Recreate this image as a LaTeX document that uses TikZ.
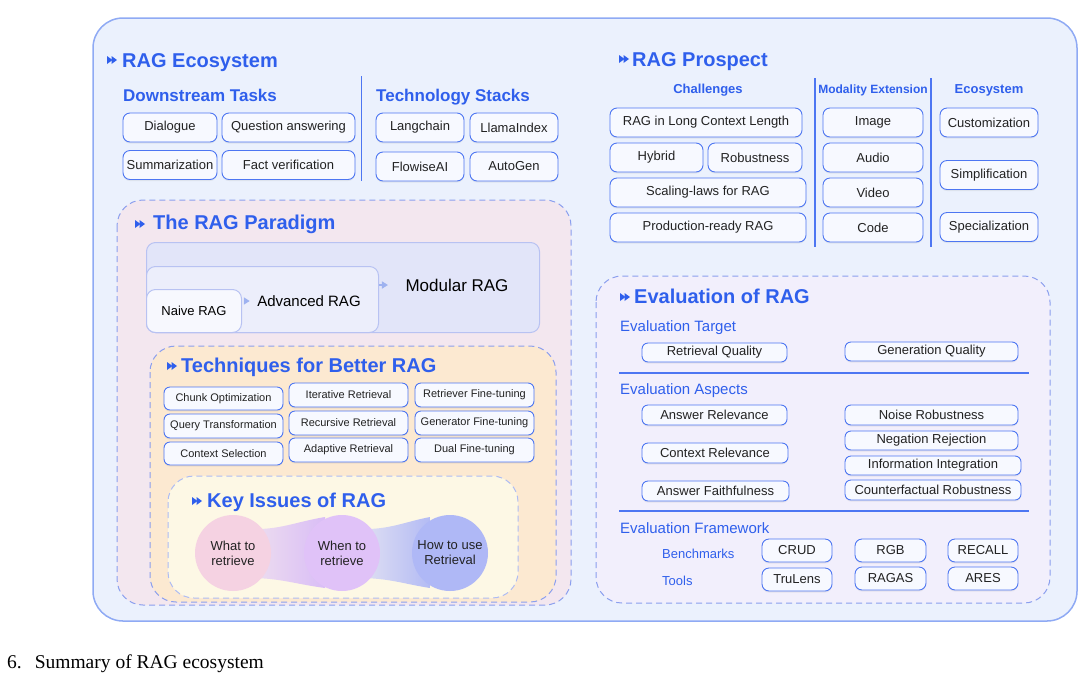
\documentclass[tikz,border=0pt]{standalone}
\usepackage{fontspec}
\setmainfont{Liberation Serif}
\setsansfont{Liberation Sans}
\usepackage{tikz}
\usetikzlibrary{arrows.meta,shadows}
\usepackage{xcolor}
\definecolor{ttlblue}{HTML}{2F5FEC}
\definecolor{boxblue}{HTML}{4D76F2}
\definecolor{tagfill}{HTML}{F7F9FF}
\definecolor{ink}{HTML}{222222}
\definecolor{outfill}{HTML}{EBF1FD}
\definecolor{outline}{HTML}{8FAAF4}
\definecolor{dashblue}{HTML}{8B9FEE}
\definecolor{pinkfill}{HTML}{F3E7EF}
\definecolor{peachfill}{HTML}{FCE9D1}
\definecolor{creamfill}{HTML}{FDF8E5}
\definecolor{lavfill}{HTML}{F2EFFC}
\definecolor{modfill}{HTML}{E2E5F9}
\definecolor{advfill}{HTML}{ECEEFB}
\definecolor{naifill}{HTML}{F7F8FE}
\definecolor{paraline}{HTML}{B8C2F2}
\definecolor{arrblue}{HTML}{9EB2F0}
\definecolor{issuea}{HTML}{F5D2E2}
\definecolor{issueb}{HTML}{E0C2F8}
\definecolor{issuec}{HTML}{AFB8F6}
\definecolor{ribaa}{HTML}{EEDFEF}
\definecolor{ribab}{HTML}{D9BDF6}
\definecolor{ribba}{HTML}{E2E1F2}
\definecolor{ribbb}{HTML}{B3BBF4}

\begin{document}
\begin{tikzpicture}[x=1pt, y=-1pt, font=\sffamily,
	tagbox/.style={draw=boxblue, line width=0.9pt, fill=tagfill, rounded corners=7pt, inner sep=0pt, text=ink,
		font=\sffamily\fontsize{13}{15}\selectfont,
		drop shadow={shadow xshift=0pt, shadow yshift=-1.5pt, opacity=0.12}},
	smalltag/.style={tagbox, rounded corners=6pt, font=\sffamily\fontsize{11}{13}\selectfont},
	head/.style={anchor=base west, inner sep=0pt, text=ttlblue, font=\sffamily\bfseries\fontsize{20}{24}\selectfont},
	subhead/.style={anchor=base west, inner sep=0pt, text=ttlblue, font=\sffamily\bfseries\fontsize{17}{20}\selectfont},
	colhead/.style={anchor=base, inner sep=0pt, text=ttlblue, font=\sffamily\bfseries\fontsize{13}{15}\selectfont},
	evhead/.style={anchor=base west, inner sep=0pt, text=ttlblue, font=\sffamily\fontsize{15}{18}\selectfont},
	toolhead/.style={anchor=base west, inner sep=0pt, text=ttlblue, font=\sffamily\fontsize{13}{15}\selectfont},
	panel/.style={draw=dashblue, line width=1pt, dash pattern=on 6pt off 4pt, rounded corners=26pt},
	sepline/.style={draw=boxblue, line width=1.2pt},
	stage/.style={draw=paraline, line width=1pt, rounded corners=9pt, inner sep=0pt, anchor=north west},
	parr/.style={-{Triangle[length=6pt, width=7pt]}, draw=arrblue, line width=1.5pt},
	issue/.style={circle, minimum size=76, inner sep=0pt, align=center, text=ink,
		font=\sffamily\fontsize{13}{15}\selectfont},
	chev/.pic={\fill (0,-4) -- (5.5,0) -- (0,4) -- cycle; \fill (4.5,-4) -- (10,0) -- (4.5,4) -- cycle;}]
	\useasboundingbox (0,0) rectangle (1089,678);
	\draw[fill=outfill, draw=outline, line width=1.5pt, rounded corners=30pt] (93,18) rectangle (1077,621);

	\pic[ttlblue] at (107,60) {chev};
	\node[head] (ecoT) at (122,67) {RAG Ecosystem};
	\node[subhead] (dsT) at (123,101) {Downstream Tasks};
	\node[subhead] (tsT) at (376,101) {Technology Stacks};
	\coordinate (ecoTop) at (361.5,76);
	\coordinate (ecoBot) at (361.5,181);
	\draw[sepline] (ecoTop) -- (ecoBot);
	\node[tagbox, minimum width=94, minimum height=29] (dlg) at (170,127.5) {Dialogue};
	\node[tagbox, minimum width=133, minimum height=29] (qa) at (288.5,127.5) {Question answering};
	\node[tagbox, minimum width=94, minimum height=29] (summ) at (170,165) {Summarization};
	\node[tagbox, minimum width=133, minimum height=29] (fact) at (288.5,165) {Fact verification};
	\node[tagbox, minimum width=88, minimum height=29] (lang) at (420,127.5) {Langchain};
	\node[tagbox, minimum width=88, minimum height=29] (llama) at (514,127.5) {LlamaIndex};
	\node[tagbox, minimum width=88, minimum height=29] (flow) at (420,166.5) {FlowiseAI};
	\node[tagbox, minimum width=88, minimum height=29] (autog) at (514,166.5) {AutoGen};

	\pic[ttlblue] at (619,59) {chev};
	\node[head] (proT) at (632,66) {RAG Prospect};
	\node[colhead] (chT) at (708,93) {Challenges};
	\node[colhead, font=\sffamily\bfseries\fontsize{12}{14}\selectfont] (meT) at (873,93) {Modality Extension};
	\node[colhead] (esT) at (989,93) {Ecosystem};
	\coordinate (proTopA) at (815,78);
	\coordinate (proBotA) at (815,247);
	\coordinate (proTopB) at (931,78);
	\coordinate (proBotB) at (931,247);
	\draw[sepline] (proTopA) -- (proBotA);
	\draw[sepline] (proTopB) -- (proBotB);
	\node[tagbox, minimum width=192, minimum height=29] (longctx) at (706,122.5) {RAG in Long Context Length};
	\node[tagbox, minimum width=93, minimum height=29] (hybrid) at (656.5,157.5) {Hybrid};
	\node[tagbox, minimum width=94, minimum height=29] (robust) at (755,157.5) {Robustness};
	\node[tagbox, minimum width=196, minimum height=29] (scaling) at (708,192.5) {Scaling-laws for RAG};
	\node[tagbox, minimum width=196, minimum height=29] (prod) at (708,227.5) {Production-ready RAG};
	\node[tagbox, minimum width=100, minimum height=29] (image) at (873,122.5) {Image};
	\node[tagbox, minimum width=100, minimum height=29] (audio) at (873,157.5) {Audio};
	\node[tagbox, minimum width=100, minimum height=29] (video) at (873,192.5) {Video};
	\node[tagbox, minimum width=100, minimum height=29] (code) at (873,227.5) {Code};
	\node[tagbox, minimum width=98, minimum height=29] (custom) at (989,122.5) {Customization};
	\node[tagbox, minimum width=98, minimum height=29] (simpl) at (989,175) {Simplification};
	\node[tagbox, minimum width=98, minimum height=29] (special) at (989,227) {Specialization};

	\draw[panel, fill=pinkfill] (117,200) rectangle (571,605);
	\pic[ttlblue] at (135,224) {chev};
	\node[head] (parT) at (153,229) {The RAG Paradigm};
	\node[stage, fill=modfill, minimum width=393, minimum height=90] (modular) at (146,242) {};
	\node[stage, fill=advfill, minimum width=232, minimum height=66] (advanced) at (146,266) {};
	\node[stage, fill=naifill, minimum width=95, minimum height=43, text=black,
		font=\sffamily\fontsize{13}{15}\selectfont] (naive) at (146,289) {Naive RAG};
	\node[text=black, font=\sffamily\fontsize{15}{18}\selectfont] (advL) at (309,301) {Advanced RAG};
	\node[text=black, font=\sffamily\fontsize{17}{20}\selectfont] (modL) at (457,285) {Modular RAG};
	\draw[parr, shorten <=2pt, shorten >=4pt] (naive.east |- advL.west) -- (advL.west);
	\draw[parr, shorten >=14pt] (advanced.east |- modL.west) -- (modL.west);

	\draw[panel, fill=peachfill] (150,346) rectangle (556,602);
	\pic[ttlblue] at (167,366) {chev};
	\node[head] (tecT) at (181,372) {Techniques for Better RAG};
	\node[smalltag, minimum width=119, minimum height=23] (chunk) at (223.5,398.5) {Chunk Optimization};
	\node[smalltag, minimum width=119, minimum height=24] (query) at (223.5,426) {Query Transformation};
	\node[smalltag, minimum width=119, minimum height=23] (ctxsel) at (223.5,453.5) {Context Selection};
	\node[smalltag, minimum width=119, minimum height=24] (iter) at (348.5,395) {Iterative Retrieval};
	\node[smalltag, minimum width=119, minimum height=24] (recur) at (348.5,423) {Recursive Retrieval};
	\node[smalltag, minimum width=119, minimum height=24] (adapt) at (348.5,450) {Adaptive Retrieval};
	\node[smalltag, minimum width=119, minimum height=24] (retft) at (474.5,395) {Retriever Fine-tuning};
	\node[smalltag, minimum width=119, minimum height=24] (genft) at (474.5,423) {Generator Fine-tuning};
	\node[smalltag, minimum width=119, minimum height=24] (dualft) at (474.5,450) {Dual Fine-tuning};

	\draw[panel, draw=dashblue!70, fill=creamfill] (168,476) rectangle (518,598);
	\pic[ttlblue] at (192,501) {chev};
	\node[head] (keyT) at (207,507) {Key Issues of RAG};
	\shade[left color=ribaa, right color=ribab] (250,529) .. controls (280,530) and (295,522) .. (325,517) -- (325,588) .. controls (295,584) and (280,578) .. (250,578) -- cycle;
	\shade[left color=ribba, right color=ribbb] (359,529) .. controls (389,530) and (404,522) .. (430,517) -- (430,588) .. controls (404,584) and (389,578) .. (359,578) -- cycle;
	\node[issue, fill=issuea] (what) at (233,553) {What to\\retrieve};
	\node[issue, fill=issueb] (when) at (342,553) {When to\\retrieve};
	\node[issue, fill=issuec] (how) at (450,553) {How to use\\Retrieval};

	\draw[panel, fill=lavfill] (596,276) rectangle (1050,603);
	\pic[ttlblue] at (620,297) {chev};
	\node[head] (evaT) at (634,303) {Evaluation of RAG};
	\node[evhead] (tgtT) at (620,331) {Evaluation Target};
	\node[tagbox, rounded corners=6pt, minimum width=145, minimum height=19] (rq) at (714.5,352.5) {Retrieval Quality};
	\node[tagbox, rounded corners=6pt, minimum width=173, minimum height=19] (gq) at (931.5,351.5) {Generation Quality};
	\coordinate (sepAL) at (619,373);
	\coordinate (sepAR) at (1029,373);
	\draw[sepline] (sepAL) -- (sepAR);
	\node[evhead] (aspT) at (620,394) {Evaluation Aspects};
	\node[tagbox, rounded corners=6pt, minimum width=145, minimum height=20] (ansrel) at (714.5,415) {Answer Relevance};
	\node[tagbox, rounded corners=6pt, minimum width=146, minimum height=20] (ctxrel) at (715,453) {Context Relevance};
	\node[tagbox, rounded corners=6pt, minimum width=147, minimum height=20] (ansfai) at (715.5,491) {Answer Faithfulness};
	\node[tagbox, rounded corners=6pt, minimum width=173, minimum height=20] (noise) at (931.5,415) {Noise Robustness};
	\node[tagbox, rounded corners=6pt, minimum width=173, minimum height=19] (negrej) at (931.5,440.5) {Negation Rejection};
	\node[tagbox, rounded corners=6pt, minimum width=176, minimum height=19] (infint) at (933,465.5) {Information Integration};
	\node[tagbox, rounded corners=6pt, minimum width=176, minimum height=20] (cfrob) at (933,490) {Counterfactual Robustness};
	\coordinate (sepBL) at (619,511);
	\coordinate (sepBR) at (1029,511);
	\draw[sepline] (sepBL) -- (sepBR);
	\node[evhead] (fwT) at (620,533) {Evaluation Framework};
	\node[toolhead] (benchT) at (662,558) {Benchmarks};
	\node[toolhead] (toolT) at (662,585) {Tools};
	\node[tagbox, minimum width=70, minimum height=23] (crud) at (797,550.5) {CRUD};
	\node[tagbox, minimum width=70, minimum height=23] (trulens) at (797,579.5) {TruLens};
	\node[tagbox, minimum width=71, minimum height=23] (rgb) at (890.5,550.5) {RGB};
	\node[tagbox, minimum width=71, minimum height=23] (ragas) at (890.5,578.5) {RAGAS};
	\node[tagbox, minimum width=70, minimum height=23] (recall) at (983,550.5) {RECALL};
	\node[tagbox, minimum width=70, minimum height=23] (ares) at (983,578.5) {ARES};

	\node[anchor=base west, inner sep=0pt, text=black, font=\rmfamily\fontsize{19.5}{22}\selectfont] (cap) at (7,668) {6.\hspace{13pt}Summary of RAG ecosystem};
\end{tikzpicture}
\end{document}
